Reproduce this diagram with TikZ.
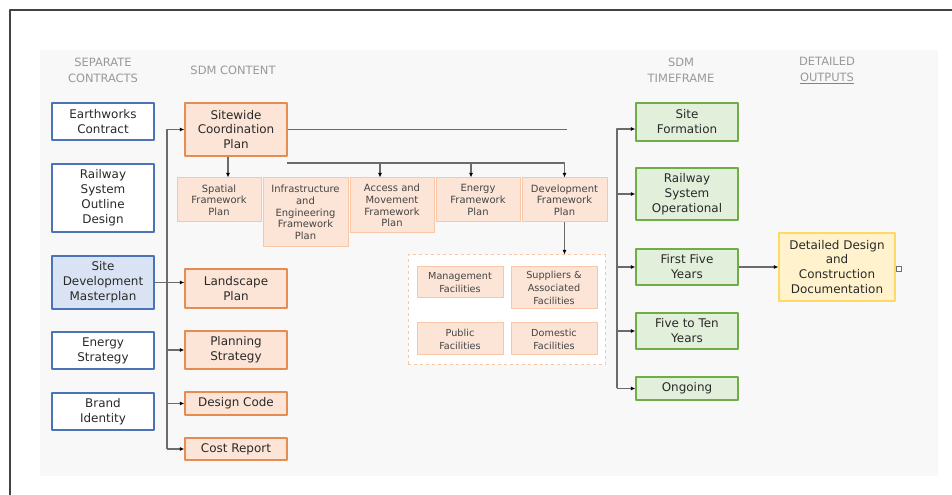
\documentclass[tikz,border=0pt]{standalone}
\usepackage{fontspec}
\setmainfont{DejaVu Sans}
\usetikzlibrary{arrows.meta}

\begin{document}
\begin{tikzpicture}[>={Latex[length=4.5bp,width=4bp,black]},line join=bevel,
  conn/.style={draw=linegray,line width=1.2bp},
  hdr/.style={inner sep=0bp,align=center,text=hdrgray,font=\fontsize{11.5}{16}\selectfont},
  contract/.style={draw=blueline,fill=white,line width=1.2bp,minimum width=102bp,minimum height=#1,inner sep=0bp,align=center,text=textcol,font=\fontsize{12}{15}\selectfont},
  sdmbox/.style={draw=orangeline,fill=orangefill,line width=1.4bp,minimum width=102bp,minimum height=#1,inner sep=0bp,align=center,text=textcol,font=\fontsize{12}{15}\selectfont},
  fwbox/.style={draw=fwline,fill=orangefill,line width=1bp,minimum height=#1,inner sep=0bp,align=center,text=fwtext,font=\fontsize{10}{11.7}\selectfont},
  facbox/.style={draw=fwline,fill=orangefill,line width=1bp,minimum width=86bp,minimum height=#1,inner sep=0bp,align=center,text=fwtext,font=\fontsize{9.7}{13}\selectfont},
  timebox/.style={draw=greenline,fill=greenfill,line width=1.4bp,minimum width=102bp,minimum height=#1,inner sep=0bp,align=center,text=textcol,font=\fontsize{12}{15}\selectfont},
  outbox/.style={draw=yellowline,fill=yellowfill,line width=1.2bp,minimum width=116bp,minimum height=68bp,inner sep=0bp,align=center,text=textcol,font=\fontsize{12}{15}\selectfont},
]
  \definecolor{framecol}{rgb}{0.26,0.26,0.26}
  \definecolor{panelcol}{rgb}{0.973,0.973,0.973}
  \definecolor{hdrgray}{rgb}{0.6,0.6,0.6}
  \definecolor{textcol}{rgb}{0.16,0.16,0.16}
  \definecolor{fwtext}{rgb}{0.27,0.27,0.27}
  \definecolor{linegray}{rgb}{0.42,0.42,0.42}
  \definecolor{blueline}{rgb}{0.29,0.45,0.72}
  \definecolor{bluefill}{rgb}{0.855,0.89,0.953}
  \definecolor{orangeline}{rgb}{0.90,0.55,0.32}
  \definecolor{orangefill}{rgb}{0.988,0.894,0.839}
  \definecolor{fwline}{rgb}{0.97,0.78,0.66}
  \definecolor{greenline}{rgb}{0.44,0.68,0.28}
  \definecolor{greenfill}{rgb}{0.886,0.937,0.855}
  \definecolor{yellowline}{rgb}{1.0,0.85,0.40}
  \definecolor{yellowfill}{rgb}{1.0,0.949,0.80}
  \definecolor{ulinecol}{rgb}{0.90,0.35,0.35}
  \useasboundingbox (0bp,0bp) rectangle (952bp,495bp);
  % Background
  \fill[panelcol] (40bp,19bp) rectangle (938bp,445bp);
  \draw[framecol,line width=2.5bp] (10bp,0bp) -- (10bp,485bp) -- (952bp,485bp);
  % Headers
  \node (seph) at (103bp,425bp) [hdr] {SEPARATE\\CONTRACTS};
  \node (sdmh) at (233bp,425bp) [hdr] {SDM CONTENT};
  \node (tfh) at (681bp,424.5bp) [hdr] {SDM\\TIMEFRAME};
  \node (outh) at (827bp,424.5bp) [hdr] {DETAILED\\{\color{ulinecol}\underline{\textcolor{hdrgray}{OUTPUTS}}}};
  % Node: separate contracts
  \node (earth) at (103bp,373.5bp) [contract=37bp] {Earthworks\\Contract};
  \node (rail) at (103bp,297bp) [contract=68bp] {Railway\\System\\Outline\\Design};
  \node (sdm) at (103bp,212.5bp) [contract=53bp,fill=bluefill] {Site\\Development\\Masterplan};
  \node (energy) at (103bp,144.5bp) [contract=37bp] {Energy\\Strategy};
  \node (brand) at (103bp,83.5bp) [contract=37bp] {Brand\\Identity};
  % Node: sdm content
  \node (sitewide) at (236bp,365.5bp) [sdmbox=53bp] {Sitewide\\Coordination\\Plan};
  \node (landscape) at (236bp,206.5bp) [sdmbox=39bp] {Landscape\\Plan};
  \node (planning) at (236bp,145bp) [sdmbox=38bp] {Planning\\Strategy};
  \node (design) at (236bp,91.5bp) [sdmbox=23bp] {Design Code};
  \node (cost) at (236bp,46bp) [sdmbox=22bp] {Cost Report};
  % Node: framework plans
  \node (spatial) at (219bp,295bp) [fwbox=44bp,minimum width=84bp] {Spatial\\Framework\\Plan};
  \node (infra) at (305.5bp,282.5bp) [fwbox=69bp,minimum width=85bp] {Infrastructure\\and\\Engineering\\Framework\\Plan};
  \node (access) at (392bp,289.5bp) [fwbox=55bp,minimum width=84bp] {Access and\\Movement\\Framework\\Plan};
  \node (energyfw) at (478bp,295bp) [fwbox=44bp,minimum width=84bp] {Energy\\Framework\\Plan};
  \node (devfw) at (564.5bp,295bp) [fwbox=44bp,minimum width=85bp] {Development\\Framework\\Plan};
  % Node: facilities
  \node (facil) at (506.5bp,185bp) [draw=fwline,fill=white,dashed,line width=1bp,minimum width=197bp,minimum height=110bp] {};
  \node (mgmt) at (460bp,212.5bp) [facbox=31bp] {Management\\Facilities};
  \node (suppl) at (554bp,207bp) [facbox=42bp] {Suppliers \&\\Associated\\Facilities};
  \node (public) at (460bp,156bp) [facbox=32bp] {Public\\Facilities};
  \node (domestic) at (554bp,156bp) [facbox=32bp] {Domestic\\Facilities};
  % Node: timeframe
  \node (siteform) at (687bp,373bp) [timebox=38bp] {Site\\Formation};
  \node (railop) at (687bp,301bp) [timebox=52bp] {Railway\\System\\Operational};
  \node (first5) at (687bp,228bp) [timebox=36bp] {First Five\\Years};
  \node (five10) at (687bp,164bp) [timebox=36bp] {Five to Ten\\Years};
  \node (ongoing) at (687bp,106.5bp) [timebox=23bp] {Ongoing};
  % Node: detailed outputs
  \node (detail) at (837bp,228bp) [outbox] {Detailed Design\\and\\Construction\\Documentation};
  \node (handle) at (898.5bp,226.5bp) [draw=linegray,fill=white,line width=0.6bp,minimum size=5bp,inner sep=0bp] {};
  % Coordinates
  \coordinate (bus) at (167bp,0bp);
  \coordinate (fwbus) at (287bp,332bp);
  \coordinate (swEnd) at (567bp,365.5bp);
  \coordinate (tbus) at (617bp,0bp);
  \coordinate (spIn) at ([xshift=9bp]spatial.north);
  \coordinate (accIn) at ([xshift=-12bp]access.north);
  \coordinate (enIn) at ([xshift=-7bp]energyfw.north);
  \coordinate (sfIn) at ([yshift=-7bp]siteform.west);
  % Edge: bus -> sdm content
  \draw [conn,->] (bus |- cost.west) |- (sitewide.west);
  \draw [conn,->] (sdm.east) -- (sdm.east -| landscape.west);
  \draw [conn,->] (bus |- planning.west) -- (planning.west);
  \draw [conn,->] (bus |- design.west) -- (design.west);
  \draw [conn,->] (bus |- cost.west) -- (cost.west);
  % Edge: sitewide -> framework plans
  \draw [conn,->] (spIn |- sitewide.south) -- (spIn);
  \draw [conn] (sitewide.east) -- (swEnd);
  \draw [conn,->] (fwbus) -| (devfw.north);
  \draw [conn,->] (accIn |- fwbus) -- (accIn);
  \draw [conn,->] (enIn |- fwbus) -- (enIn);
  % Edge: devfw -> facilities
  \draw [conn,->] (devfw.south) -- (devfw.south |- facil.north);
  % Edge: bus -> timeframe
  \draw [conn,->] (tbus |- ongoing.west) |- (sfIn);
  \draw [conn,->] (tbus |- railop.west) -- (railop.west);
  \draw [conn,->] (tbus |- first5.west) -- (first5.west);
  \draw [conn,->] (tbus |- five10.west) -- (five10.west);
  \draw [conn,->] (tbus |- ongoing.west) -- (ongoing.west);
  % Edge: first5 -> detail
  \draw [conn,->] (first5.east) -- (detail.west);
%
\end{tikzpicture}
\end{document}
